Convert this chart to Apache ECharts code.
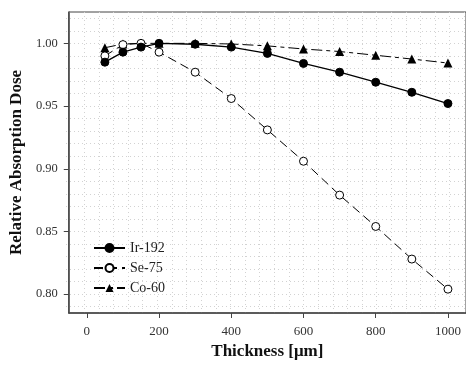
<!DOCTYPE html>
<html>
<head>
<meta charset="utf-8">
<script src="https://cdn.jsdelivr.net/npm/echarts/dist/echarts.min.js"></script>
<style>
  html, body { margin: 0; padding: 0; background: #fff; }
  #chart { width: 466px; height: 371px; }
</style>
</head>
<body>
<div id="chart"></div>
<script>
  // thickness in um
  var thickness = [50, 100, 150, 200, 300, 400, 500, 600, 700, 800, 900, 1000];
  var ir192 = [0.985, 0.993, 0.997, 1.000, 0.9993, 0.997, 0.992, 0.984, 0.977, 0.969, 0.961, 0.952];
  var se75 = [0.990, 0.999, 1.000, 0.993, 0.977, 0.956, 0.931, 0.906, 0.879, 0.854, 0.828, 0.804];
  var co60 = [0.9965, 0.9995, 1.000, 1.000, 1.000, 0.9995, 0.998, 0.9955, 0.9935, 0.9905, 0.9875, 0.9843];
  var xTicks = [0, 200, 400, 600, 800, 1000];
  var yTicks = [0.80, 0.85, 0.90, 0.95, 1.00];

  function pairs(ys) {
    return thickness.map(function (x, i) { return [x, ys[i]]; });
  }

  var font = '"Liberation Serif", "Times New Roman", serif';
  var gridLine = { show: true, lineStyle: { color: '#d2d2d2', type: [1, 3], width: 1 } };

  // main plot box: x -50..1050 over 402px, y 0.785..1.025 over 301px
  var L = 66, T = 12, W = 402, H = 301;
  var kx = W / 1100, ky = H / 0.24;

  var chart = echarts.init(document.getElementById('chart'), null, { renderer: 'canvas' });
  chart.setOption({
    backgroundColor: '#fff',
    animation: false,
    textStyle: { fontFamily: font },
    grid: [
      { left: L, top: T, width: W, height: H, show: true, borderColor: '#444', borderWidth: 1 },
      // dotted vertical grid every 40 um (-40..1040)
      { left: L + 10 * kx, top: T, width: 1080 * kx, height: H },
      // dotted horizontal grid every 0.01 (0.79..1.02)
      { left: L, top: T + 0.005 * ky, width: W, height: 0.23 * ky }
    ],
    legend: {
      left: 88, top: 236,
      orient: 'vertical',
      itemWidth: 31, itemHeight: 10, itemGap: 6,
      textStyle: { fontFamily: font, fontSize: 14, color: '#222' },
      data: ['Ir-192', 'Se-75', 'Co-60']
    },
    xAxis: [
      {
        type: 'value', gridIndex: 0,
        min: -50, max: 1050,
        name: 'Thickness [μm]',
        nameLocation: 'middle', nameGap: 28,
        nameTextStyle: { fontFamily: font, fontSize: 17, fontWeight: 'bold', color: '#111' },
        axisLine: { show: true, onZero: false, lineStyle: { color: '#444', width: 1.5 } },
        axisTick: { show: true, length: 5, customValues: xTicks, lineStyle: { color: '#444' } },
        axisLabel: {
          customValues: xTicks, margin: 12, fontFamily: font, fontSize: 13, color: '#333',
          formatter: function (v) { return String(v); }
        },
        splitLine: { show: false }
      },
      {
        type: 'value', gridIndex: 1, min: -40, max: 1040, interval: 40,
        axisLine: { show: false }, axisTick: { show: false }, axisLabel: { show: false },
        splitLine: gridLine
      },
      {
        type: 'value', gridIndex: 2, show: false, min: 0, max: 1
      }
    ],
    yAxis: [
      {
        type: 'value', gridIndex: 0,
        min: 0.785, max: 1.025,
        name: 'Relative Absorption Dose',
        nameLocation: 'middle', nameGap: 43,
        nameTextStyle: { fontFamily: font, fontSize: 17, fontWeight: 'bold', color: '#111' },
        axisLine: { show: true, onZero: false, lineStyle: { color: '#444', width: 1.5 } },
        axisTick: { show: true, length: 5, customValues: yTicks, lineStyle: { color: '#444' } },
        axisLabel: {
          customValues: yTicks, margin: 11, fontFamily: font, fontSize: 12.5, color: '#333',
          formatter: function (v) { return v.toFixed(2); }
        },
        splitLine: { show: false }
      },
      {
        type: 'value', gridIndex: 1, show: false, min: 0, max: 1
      },
      {
        type: 'value', gridIndex: 2, min: 0.79, max: 1.02, interval: 0.01,
        axisLine: { show: false }, axisTick: { show: false }, axisLabel: { show: false },
        splitLine: gridLine
      }
    ],
    series: [
      {
        name: 'Ir-192', type: 'line', data: pairs(ir192), z: 4,
        symbol: 'circle', symbolSize: 8,
        itemStyle: { color: '#000', borderColor: '#000', borderWidth: 1 },
        lineStyle: { color: '#000', width: 1.3, type: 'solid' }
      },
      {
        name: 'Se-75', type: 'line', data: pairs(se75), z: 3,
        symbol: 'circle', symbolSize: 8,
        itemStyle: { color: '#fff', borderColor: '#000', borderWidth: 1 },
        lineStyle: { color: '#000', width: 1, type: [9, 5] }
      },
      {
        name: 'Co-60', type: 'line', data: pairs(co60), z: 2,
        symbol: 'triangle', symbolSize: 9,
        itemStyle: { color: '#000', borderColor: '#000', borderWidth: 0 },
        lineStyle: { color: '#000', width: 1, type: [11, 4, 4, 4] }
      }
    ]
  });
</script>
</body>
</html>
